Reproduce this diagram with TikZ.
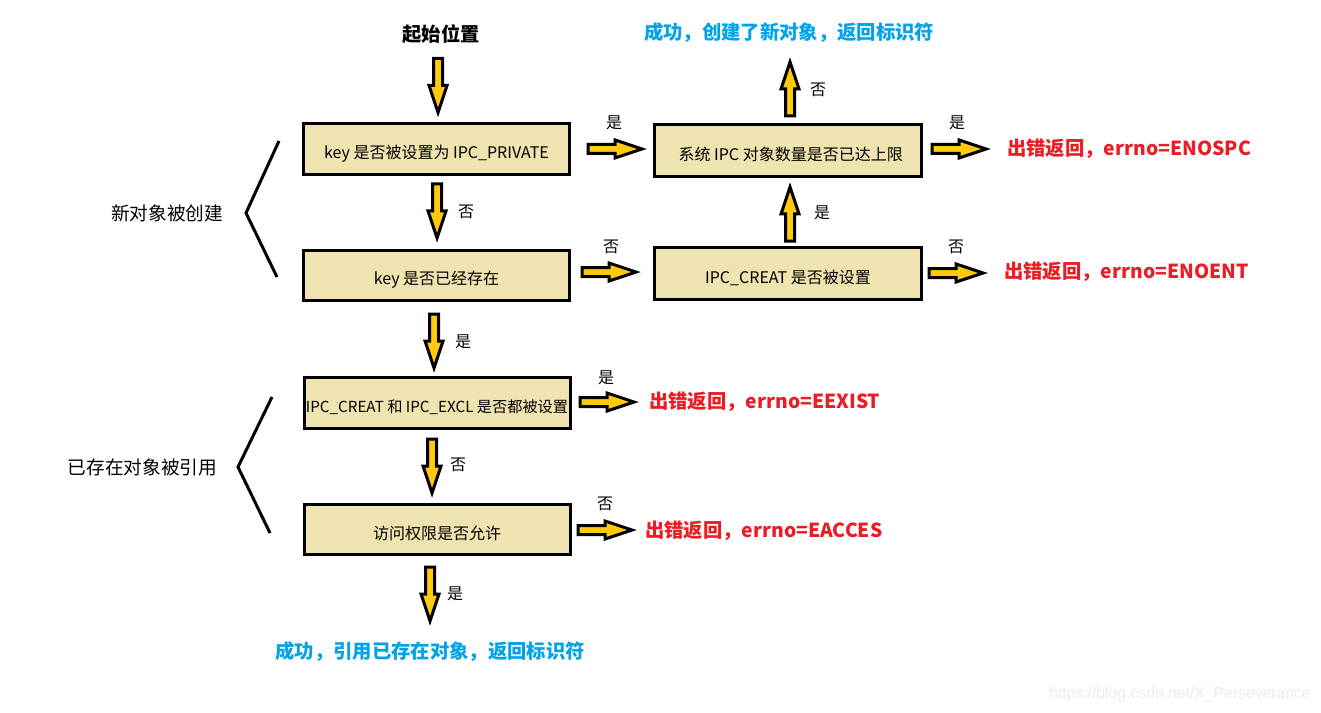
\documentclass[tikz,border=0pt]{standalone}
\usepackage{fontspec}
\setmainfont{Noto Sans CJK SC}
\newfontfamily\wmfont{Liberation Sans}
\definecolor{boxfill}{HTML}{EFE4B0}
\definecolor{arrowgold}{HTML}{FFC90E}
\definecolor{errred}{HTML}{ED1C24}
\definecolor{okblue}{HTML}{00A2E8}
\definecolor{wmgray}{HTML}{EBEBEB}
\begin{document}
\begin{tikzpicture}[x=0.75pt,y=-0.75pt,
  box/.style={draw=black,line width=2.25pt,fill=boxfill,minimum width=199.5pt,minimum height=38.5pt,inner sep=0pt,text height=14.5pt,text depth=0pt,font=\fontsize{12}{14}\selectfont},
  arrowline/.style={draw=black,fill=arrowgold,line width=2.25pt},
  lbl/.style={font=\fontsize{12}{14}\selectfont,inner sep=0pt},
  errtxt/.style={font=\fontsize{14.5}{17}\selectfont\bfseries,text=errred,inner sep=0pt,anchor=west},
  oktxt/.style={font=\fontsize{14.5}{17}\selectfont\bfseries,text=okblue,inner sep=0pt},
  side/.style={font=\fontsize{14}{16}\selectfont,inner sep=0pt},
  brk/.style={line width=2.25pt,line join=miter},
  barrow/.pic={\path[arrowline] (0,-4.5) -- (27,-4.5) -- (27,-9) -- (54,0) -- (27,9) -- (27,4.5) -- (0,4.5) -- cycle;}
]
\useasboundingbox (0,0) rectangle (1321,713);

% boxes
\node[box] (B1) at (436.5,149) {key 是否被设置为 IPC\_PRIVATE};
\node[box,minimum height=37.5pt] (B2) at (436.5,275) {key 是否已经存在};
\node[box,font=\fontsize{11.4}{13}\selectfont] (B3) at (437,403) {IPC\_CREAT 和 IPC\_EXCL 是否都被设置};
\node[box,minimum height=38pt] (B4) at (437,529.5) {访问权限是否允许};
\node[box,minimum width=200pt,minimum height=39pt] (B5) at (788,150.5) {\hspace{4pt}系统 IPC 对象数量是否已达上限};
\node[box,minimum width=200pt] (B6) at (788,273.5) {IPC\_CREAT 是否被设置};

% texts
\node[font=\fontsize{14.5}{17}\selectfont\bfseries,inner sep=0pt] (start) at (441,34) {起始位置};
\node[oktxt] (ok1) at (789,33) {成功，创建了新对象，返回标识符};
\node[oktxt] (ok2) at (430,652) {成功，引用已存在对象，返回标识符};
\node[errtxt] (e1) at (1007,149) {出错返回，errno=ENOSPC};
\node[errtxt] (e2) at (1004,272) {出错返回，errno=ENOENT};
\node[errtxt] (e3) at (649,402) {出错返回，errno=EEXIST};
\node[errtxt] (e4) at (645,531) {出错返回，errno=EACCES};
\node[side] (g1) at (167,213) {新对象被创建};
\node[side] (g2) at (142.5,467) {已存在对象被引用};
\node[font=\wmfont\fontsize{11.8}{13}\selectfont,text=wmgray,inner sep=0pt] (wm) at (1180,694) {https://blog.csdn.net/X\_Perseverance};

% brackets
\draw[brk] (279,141) -- (246,213) -- (277,277);
\draw[brk] (272,397) -- (238,467) -- (270,533);

% block arrows (down)
\pic[rotate=-90] at (438,58.5) {barrow};
\pic[rotate=-90] at (437,184) {barrow};
\pic[rotate=-90] at (434,314) {barrow};
\pic[rotate=-90] at (432,439) {barrow};
\pic[rotate=-90] at (430,567) {barrow};
% up
\pic[rotate=90] at (790,241) {barrow};
\pic[rotate=90] at (790,116) {barrow};
% right
\pic at (588,149) {barrow};
\pic at (582,272) {barrow};
\pic at (932,149) {barrow};
\pic at (929,273) {barrow};
\pic at (580,402) {barrow};
\pic at (578,530) {barrow};

% labels
\node[lbl] at (466,212) {否};
\node[lbl] at (614,123) {是};
\node[lbl] at (611,247) {否};
\node[lbl] at (822,213) {是};
\node[lbl] at (818,90) {否};
\node[lbl] at (957,123) {是};
\node[lbl] at (956,247) {否};
\node[lbl] at (463,342) {是};
\node[lbl] at (606,378) {是};
\node[lbl] at (458,465) {否};
\node[lbl] at (605,504) {否};
\node[lbl] at (455,594) {是};
\end{tikzpicture}
\end{document}
